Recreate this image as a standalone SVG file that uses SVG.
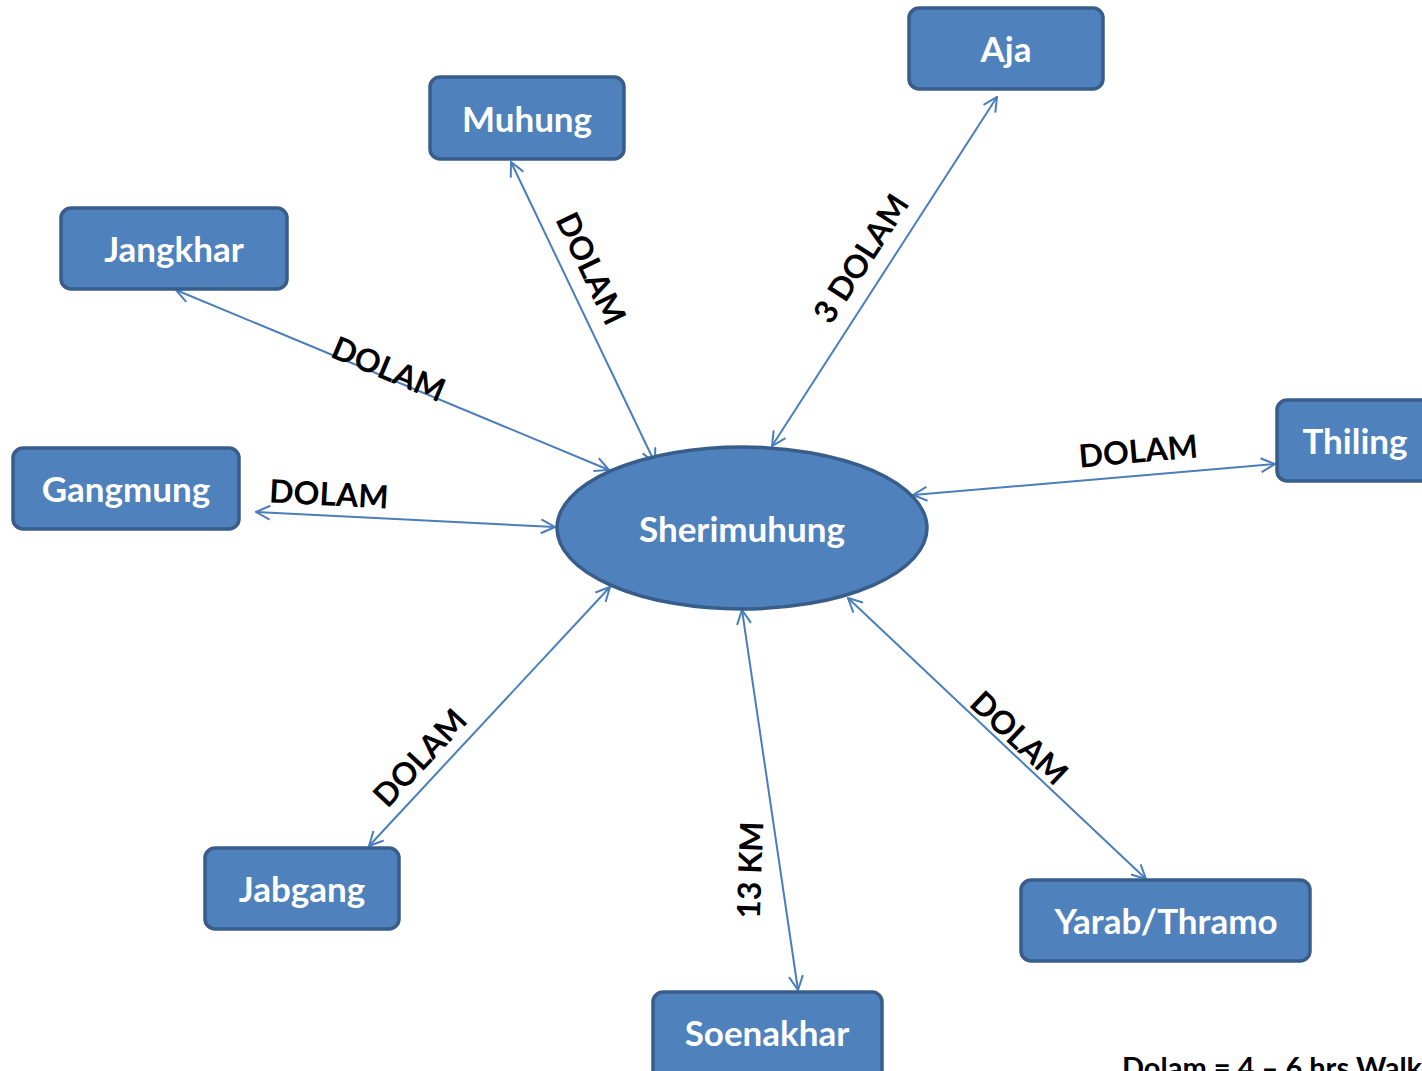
<svg xmlns="http://www.w3.org/2000/svg" width="1422" height="1071" viewBox="0 0 1422 1071">
<style>
.box{fill:#4F81BD;stroke:#385D8A;stroke-width:3.5}
.nt{font-family:Lato,"Open Sans",sans-serif;font-weight:bold;font-size:35px;fill:#fff;text-anchor:middle;dominant-baseline:central}
.lbl{font-family:Lato,"Open Sans",sans-serif;font-weight:bold;font-size:32px;fill:#000;text-anchor:middle;dominant-baseline:central}
.con{stroke:#4A7EBB;stroke-width:2;fill:none;marker-start:url(#ah);marker-end:url(#ah)}
</style>
<defs>
<marker id="ah" viewBox="0 0 16 16" refX="15" refY="8" markerWidth="16" markerHeight="16" markerUnits="userSpaceOnUse" orient="auto-start-reverse">
<path d="M1,1 L15,8 L1,15" fill="none" stroke="#4A7EBB" stroke-width="2"/>
</marker>
</defs>
<rect width="1422" height="1071" fill="#fff"/>
<g id="connectors">
<line class="con" x1="511" y1="162" x2="655" y2="463"/>
<line class="con" x1="997" y1="97" x2="772" y2="446"/>
<line class="con" x1="176" y1="290" x2="609" y2="470"/>
<line class="con" x1="256" y1="512" x2="555" y2="527"/>
<line class="con" x1="1275" y1="464" x2="913" y2="495"/>
<line class="con" x1="369" y1="846" x2="610" y2="587"/>
<line class="con" x1="742" y1="610" x2="798" y2="990"/>
<line class="con" x1="848" y1="598" x2="1146" y2="879"/>
</g>
<g id="labels">
<text class="lbl" transform="translate(592,268) rotate(64.4)">DOLAM</text>
<text class="lbl" transform="translate(860,258) rotate(-57)">3 DOLAM</text>
<text class="lbl" transform="translate(389,368) rotate(22.6)">DOLAM</text>
<text class="lbl" transform="translate(329,493) rotate(3)">DOLAM</text>
<text class="lbl" transform="translate(1138,450) rotate(-5)">DOLAM</text>
<text class="lbl" transform="translate(419,757) rotate(-47)">DOLAM</text>
<text class="lbl" transform="translate(749,870) rotate(-88)">13 KM</text>
<text class="lbl" transform="translate(1020,737) rotate(43.3)">DOLAM</text>
<text font-family="Lato,'Open Sans',sans-serif" font-weight="bold" font-size="29" x="1122" y="1078">Dolam = 4 – 6 hrs Walk</text>
</g>
<g id="node-sherimuhung">
<ellipse class="box" cx="742" cy="528" rx="185" ry="81"/>
<text class="nt" x="742" y="528">Sherimuhung</text>
</g>
<g id="node-aja">
<rect class="box" x="909" y="8" width="194" height="81" rx="10"/>
<text class="nt" x="1006" y="48">Aja</text>
</g>
<g id="node-muhung">
<rect class="box" x="430" y="77" width="194" height="82" rx="10"/>
<text class="nt" x="527" y="118">Muhung</text>
</g>
<g id="node-jangkhar">
<rect class="box" x="61" y="208" width="226" height="81" rx="10"/>
<text class="nt" x="174" y="248">Jangkhar</text>
</g>
<g id="node-gangmung">
<rect class="box" x="13" y="448" width="226" height="81" rx="10"/>
<text class="nt" x="126" y="488">Gangmung</text>
</g>
<g id="node-thiling">
<rect class="box" x="1277" y="400" width="180" height="81" rx="10"/>
<text class="nt" x="1355" y="440">Thiling</text>
</g>
<g id="node-jabgang">
<rect class="box" x="205" y="848" width="194" height="81" rx="10"/>
<text class="nt" x="302" y="888">Jabgang</text>
</g>
<g id="node-yarab">
<rect class="box" x="1021" y="880" width="289" height="81" rx="10"/>
<text class="nt" x="1166" y="920">Yarab/Thramo</text>
</g>
<g id="node-soenakhar">
<rect class="box" x="653" y="992" width="229" height="100" rx="10"/>
<text class="nt" x="767" y="1032">Soenakhar</text>
</g>
</svg>
